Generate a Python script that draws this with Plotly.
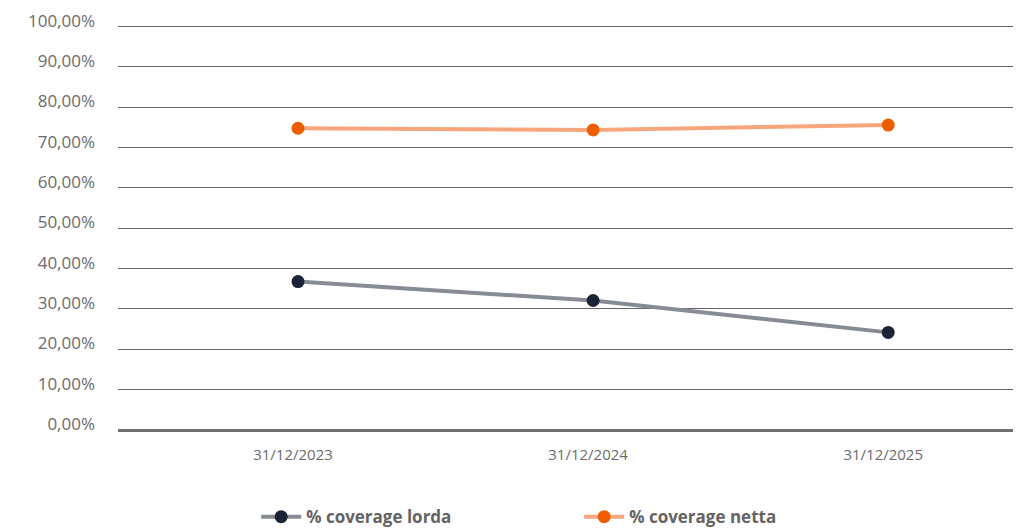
import plotly.graph_objects as go

# data
dates = ["31/12/2023", "31/12/2024", "31/12/2025"]
coverage_lorda = [36.8, 32.1, 24.2]
coverage_netta = [74.8, 74.4, 75.6]
y_ticks = [0, 10, 20, 30, 40, 50, 60, 70, 80, 90, 100]
y_tick_labels = ["%d,00%%" % v for v in y_ticks]

x_pos = list(range(len(dates)))

fig = go.Figure()
fig.add_trace(go.Scatter(
    x=x_pos, y=coverage_lorda,
    name="% coverage lorda",
    mode="lines+markers",
    line=dict(color="#868b94", width=4),
    marker=dict(color="#1b2436", size=13),
))
fig.add_trace(go.Scatter(
    x=x_pos, y=coverage_netta,
    name="% coverage netta",
    mode="lines+markers",
    line=dict(color="#f5a67c", width=4),
    marker=dict(color="#ee5e00", size=13),
))

fig.update_xaxes(
    range=[-0.61, 2.45],
    tickvals=x_pos,
    ticktext=dates,
    showgrid=False,
    zeroline=False,
    showline=False,
    ticks="",
    automargin=False,
    ticklabelstandoff=14,
    ticklabelshift=-5,
    tickfont=dict(family="Open Sans", size=15, color="#6b6b6b"),
)
fig.update_yaxes(
    range=[0, 100.4],
    tickvals=y_ticks,
    ticktext=y_tick_labels,
    showgrid=True,
    gridcolor="#666666",
    gridwidth=1,
    zeroline=True,
    zerolinecolor="#707070",
    zerolinewidth=3,
    ticks="",
    automargin=False,
    ticklabeloverflow="allow",
    ticklabelstandoff=22,
    ticklabelshift=-6,
    tickfont=dict(family="Open Sans", size=17, color="#6b6b6b"),
)

# page body adds ~8px, so the figure is a bit smaller than the window
fig.update_layout(
    width=1013,
    height=522,
    margin=dict(l=110, r=0, t=17, b=100, autoexpand=False),
    plot_bgcolor="white",
    paper_bgcolor="white",
    showlegend=True,
    legend=dict(
        orientation="h",
        x=0.153, y=-0.215,
        xanchor="left", yanchor="middle",
        font=dict(family="Open Sans", size=17, color="#646464", weight="bold"),
        itemwidth=40,
        entrywidthmode="pixels",
        entrywidth=268,
    ),
)

fig.write_html("out.html")
